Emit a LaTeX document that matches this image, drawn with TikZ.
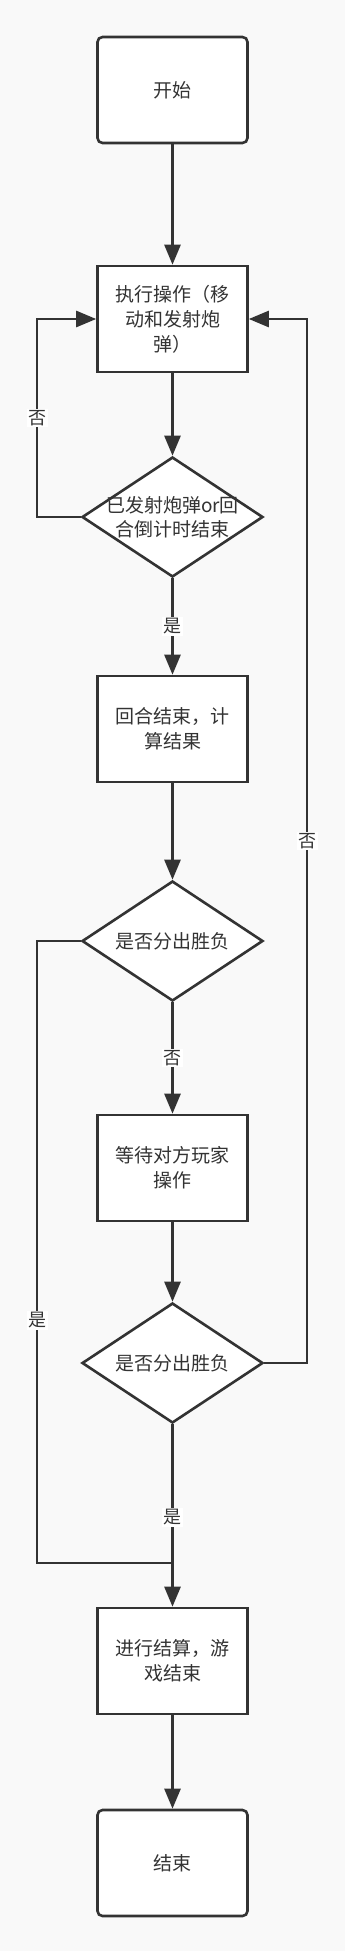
\documentclass[tikz,border=0pt]{standalone}
\usepackage{xcolor}
\usepackage{fontspec}
\usepackage{tikz}
\usetikzlibrary{arrows.meta,shapes.geometric}
\newfontfamily\cjk{Noto Sans CJK SC}
\definecolor{ink}{RGB}{51,51,51}
\definecolor{paper}{RGB}{249,249,249}
\tikzset{
  procbox/.style={rectangle,draw=ink,fill=white,line width=2.6pt,minimum width=150pt,minimum height=106pt,inner sep=0pt,align=center,text=ink,font=\cjk\fontsize{19}{25}\selectfont},
  termbox/.style={procbox,rounded corners=5pt},
  decide/.style={diamond,draw=ink,fill=white,line width=2.6pt,minimum width=181pt,minimum height=120pt,inner sep=0pt},
  decidetext/.style={text=ink,align=center,inner sep=0pt,font=\cjk\fontsize{19}{24}\selectfont},
  flow/.style={draw=ink,line width=2.6pt,-{Triangle[length=20pt,width=16pt]}},
  link/.style={draw=ink,line width=2.6pt},
  edgelbl/.style={fill=white,inner sep=1.5pt,text=ink,font=\cjk\fontsize{18}{20}\selectfont}
}
\begin{document}
\begin{tikzpicture}[x=1pt,y=-1pt]
\path[use as bounding box] (0,0) rectangle (345,1951);
\path[fill=paper,draw=none] (0,0) rectangle (345,1951);
% boxes and decisions, top to bottom
\node[termbox] (start) at (172.5,90) {开始};
\node[procbox] (act) at (172.5,319) {执行操作（移\\动和发射炮\\弹）};
\node[decide,label={[decidetext]center:已发射炮弹or回\\合倒计时结束}] (fired) at (172.5,517) {};
\node[procbox] (tally) at (172.5,729) {回合结束，计\\算结果};
\node[decide,label={[decidetext]center:是否分出胜负}] (won1) at (172.5,941) {};
\node[procbox] (wait) at (172.5,1168) {等待对方玩家\\操作};
\node[decide,label={[decidetext]center:是否分出胜负}] (won2) at (172.5,1363) {};
\node[procbox] (settle) at (172.5,1661) {进行结算，游\\戏结束};
\node[termbox] (stop) at (172.5,1863) {结束};
% side rails and the merge point
\coordinate (railL) at (37,0);
\coordinate (railR) at (307,0);
\coordinate (join) at (172.5,1563);
% main line
\draw[flow] (start) -- (act);
\draw[flow] (act) -- (fired);
\draw[flow] (fired) -- node[edgelbl]{是} (tally);
\draw[flow] (tally) -- (won1);
\draw[flow] (won1) -- node[edgelbl]{否} (wait);
\draw[flow] (wait) -- (won2);
\draw[flow] (won2) -- node[edgelbl,pos=.51]{是} (settle);
\draw[flow] (settle) -- (stop);
% loops back to the action box
\draw[flow] (fired.west) -- (fired.west -| railL) -- node[edgelbl]{否} (act.west -| railL) -- (act.west);
\draw[flow] (won2.east) -- (won2.east -| railR) -- node[edgelbl]{否} (act.east -| railR) -- (act.east);
% early win goes straight to settlement
\draw[link] (won1.west) -- (won1.west -| railL) -- node[edgelbl,pos=.61]{是} (join -| railL) -- (join);
\end{tikzpicture}
\end{document}
